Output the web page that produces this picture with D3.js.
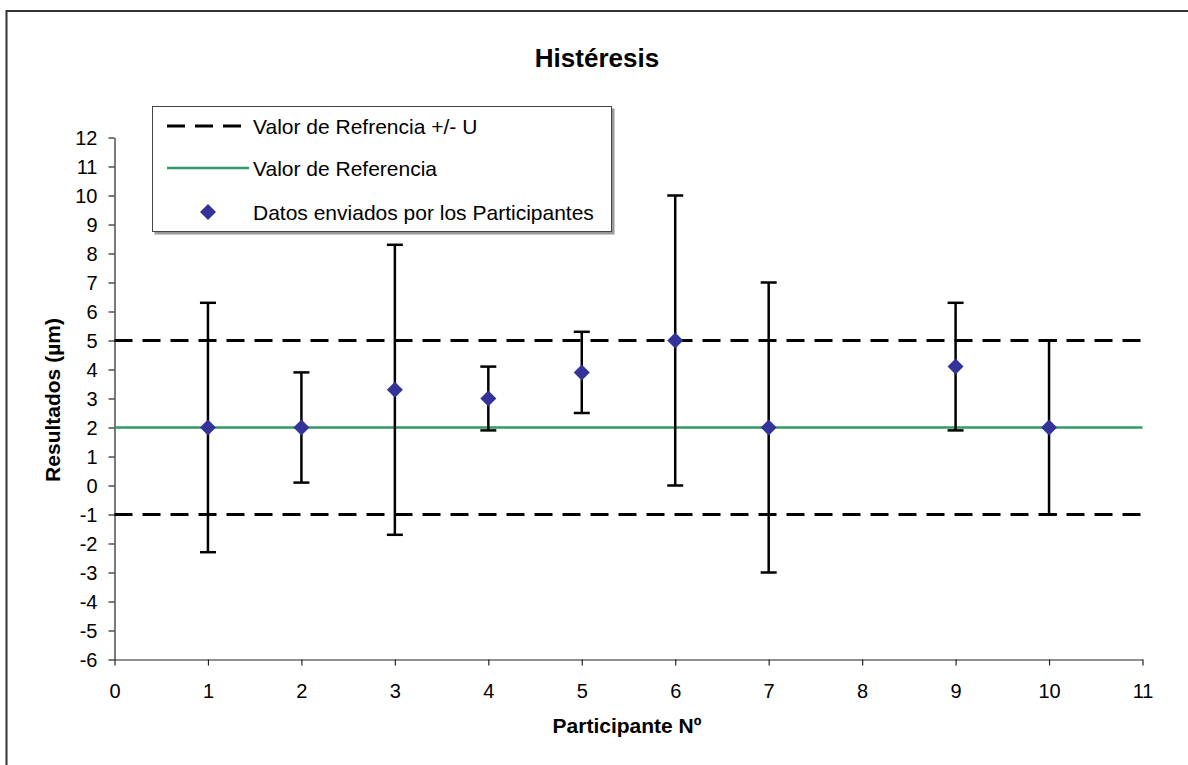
<!DOCTYPE html>
<html>
<head>
<meta charset="utf-8">
<script src="https://cdn.jsdelivr.net/npm/d3@7"></script>
<style>
  html, body { margin: 0; padding: 0; background: #fff; }
  svg { display: block; font-family: "Liberation Sans", Arial, sans-serif; }
</style>
</head>
<body>
<svg id="chart" width="1188" height="765"></svg>
<script>
// ---- Data ----
const participants = [1, 2, 3, 4, 5, 6, 7, 9, 10];
const values       = [2, 2, 3.3, 3, 3.9, 5, 2, 4.1, 2];
const upperErr     = [6.3, 3.9, 8.3, 4.1, 5.3, 10, 7, 6.3, 5];
const lowerErr     = [-2.3, 0.1, -1.7, 1.9, 2.5, 0, -3, 1.9, -1];
const refValue = 2;
const refUpper = 5;
const refLower = -1;
const xTicks = [0, 1, 2, 3, 4, 5, 6, 7, 8, 9, 10, 11];
const yTicks = [-6, -5, -4, -3, -2, -1, 0, 1, 2, 3, 4, 5, 6, 7, 8, 9, 10, 11, 12];
const title = "Histéresis";
const xTitle = "Participante Nº";
const yTitle = "Resultados (µm)";
const legendLabels = ["Valor de Refrencia +/- U", "Valor de Referencia", "Datos enviados por los Participantes"];

const svg = d3.select("#chart");

// outer chart border (right/bottom edges fall outside the view)
svg.append("rect").attr("x", 6.5).attr("y", 11).attr("width", 1300).attr("height", 900)
  .attr("fill", "none").attr("stroke", "#333").attr("stroke-width", 2);

const x = d3.scaleLinear().domain([0, 11]).range([114.5, 1142.5]);
const y = d3.scaleLinear().domain([-6, 12]).range([659.5, 137.5]);

const fmt = d => String(d);

// axes
const yAxis = svg.append("g").attr("transform", `translate(${x(0)},0)`)
  .call(d3.axisLeft(y).tickValues(yTicks).tickSize(6).tickSizeOuter(0).tickPadding(11).tickFormat(fmt));
const xAxis = svg.append("g").attr("transform", `translate(0,${y(-6)})`)
  .call(d3.axisBottom(x).tickValues(xTicks).tickSize(6).tickSizeOuter(0).tickFormat(fmt));
[xAxis, yAxis].forEach(g => {
  g.select(".domain").attr("stroke", "#222").attr("stroke-width", 1.2);
  g.selectAll(".tick line").attr("stroke", "#222").attr("stroke-width", 1.2);
  g.selectAll("text").attr("font-size", 20).attr("fill", "#000")
    .attr("font-family", "'Liberation Sans', Arial, sans-serif");
});
xAxis.selectAll("text").attr("y", 38).attr("dy", 0);
yAxis.selectAll("text").attr("dy", "0.35em");

// reference lines
const refG = svg.append("g");
[refUpper, refLower].forEach(v => {
  refG.append("line").attr("x1", x(0)).attr("x2", x(11)).attr("y1", y(v)).attr("y2", y(v))
    .attr("stroke", "#000").attr("stroke-width", 3).attr("stroke-dasharray", "18,10");
});
refG.append("line").attr("x1", x(0)).attr("x2", x(11)).attr("y1", y(refValue)).attr("y2", y(refValue))
  .attr("stroke", "#339966").attr("stroke-width", 2.5);

// error bars
const pts = participants.map((p, i) => ({ p, v: values[i], hi: upperErr[i], lo: lowerErr[i] }));
const eb = svg.append("g").selectAll("g").data(pts).join("g");
eb.append("line").attr("x1", d => x(d.p)).attr("x2", d => x(d.p))
  .attr("y1", d => y(d.hi)).attr("y2", d => y(d.lo)).attr("stroke", "#000").attr("stroke-width", 2.5);
eb.append("line").attr("x1", d => x(d.p) - 8).attr("x2", d => x(d.p) + 8)
  .attr("y1", d => y(d.hi)).attr("y2", d => y(d.hi)).attr("stroke", "#000").attr("stroke-width", 2.5);
eb.append("line").attr("x1", d => x(d.p) - 8).attr("x2", d => x(d.p) + 8)
  .attr("y1", d => y(d.lo)).attr("y2", d => y(d.lo)).attr("stroke", "#000").attr("stroke-width", 2.5);

// diamonds
const diamond = s => `M0,${-s}L${s},0L0,${s}L${-s},0Z`;
svg.append("g").selectAll("path").data(pts).join("path")
  .attr("d", diamond(8)).attr("transform", d => `translate(${x(d.p)},${y(d.v)})`)
  .attr("fill", "#333399");

// titles
svg.append("text").attr("x", 597).attr("y", 67).attr("text-anchor", "middle")
  .attr("font-size", 26).attr("font-weight", "bold").text(title);
svg.append("text").attr("x", 627).attr("y", 733).attr("text-anchor", "middle")
  .attr("font-size", 21).attr("font-weight", "bold").text(xTitle);
svg.append("text").attr("transform", "translate(60,400) rotate(-90)").attr("text-anchor", "middle")
  .attr("font-size", 21).attr("font-weight", "bold").text(yTitle);

// legend
const lg = svg.append("g");
lg.append("rect").attr("x", 154.5).attr("y", 108.5).attr("width", 460).attr("height", 126).attr("fill", "#999");
lg.append("rect").attr("x", 152.5).attr("y", 106.5).attr("width", 459).attr("height", 125)
  .attr("fill", "#fff").attr("stroke", "#444").attr("stroke-width", 1);
const rowsY = [126, 168, 212];
lg.append("line").attr("x1", 167).attr("x2", 241).attr("y1", rowsY[0]).attr("y2", rowsY[0])
  .attr("stroke", "#000").attr("stroke-width", 3).attr("stroke-dasharray", "18,10");
lg.append("line").attr("x1", 167).attr("x2", 249).attr("y1", rowsY[1]).attr("y2", rowsY[1])
  .attr("stroke", "#339966").attr("stroke-width", 2.5);
lg.append("path").attr("d", diamond(8)).attr("transform", `translate(208,${rowsY[2]})`).attr("fill", "#333399");
lg.selectAll("text.lt").data(legendLabels).join("text").attr("class", "lt")
  .attr("x", 253).attr("y", (d, i) => rowsY[i] + 8).attr("font-size", 21).text(d => d);
</script>
</body>
</html>
